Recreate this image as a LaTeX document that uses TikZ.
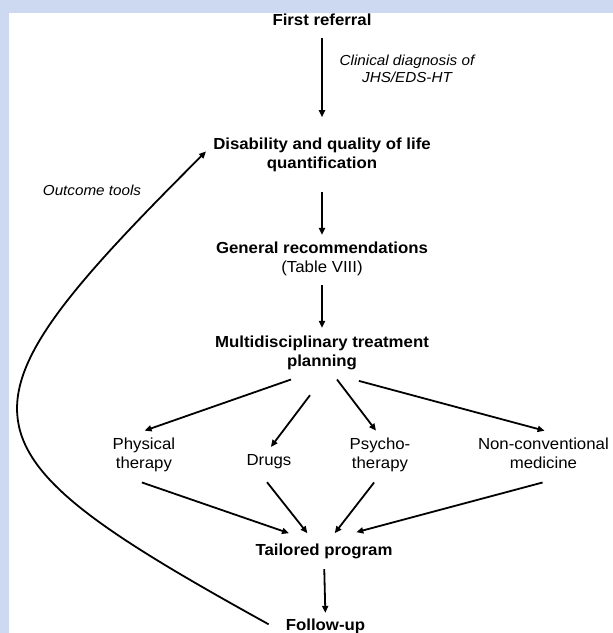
\documentclass[tikz,border=0pt]{standalone}
\usepackage{fontspec}
\setmainfont{Liberation Sans}[FakeStretch=1.05]
\usetikzlibrary{arrows.meta}
\definecolor{bandblue}{RGB}{204,217,240}

\begin{document}
\begin{tikzpicture}[x=1pt, y=-1pt,
  stage/.style={font=\bfseries\fontsize{16}{19}\selectfont, align=center, inner sep=0pt},
  therapy/.style={font=\fontsize{16}{19}\selectfont, align=center, inner sep=0pt},
  remark/.style={font=\itshape\fontsize{14.5}{17}\selectfont, align=center, inner sep=0pt},
  flowarrow/.style={-{Triangle[length=7pt,width=6pt]}, line width=1.8pt}]

% Frame
\useasboundingbox (0,0) rectangle (613,633);
\fill[bandblue] (0,0) rectangle (613,633);
\fill[white] (9,12.5) rectangle (613,633);

% Main steps
\node[stage] (first) at (322,20.2) {First referral};
\node[stage] (dis) at (322,154.4) {Disability and quality of life\\quantification};
\node[stage] (gen) at (322,258.9) {General recommendations\\{\mdseries (Table VIII)}};
\node[stage] (multi) at (322,352.9) {Multidisciplinary treatment\\planning};

% Treatment options
\node[therapy] (phys) at (143.9,454.9) {Physical\\therapy};
\node[therapy] (drugs) at (269,461.4) {Drugs};
\node[therapy] (psycho) at (380,454.9) {Psycho-\\therapy};
\node[therapy] (noncon) at (543.4,453.1) {Non-conventional\\medicine};

% Program and follow-up
\node[stage] (tail) at (324,551.4) {Tailored program};
\node[stage] (follow) at (325.5,626.3) {Follow-up};

% Notes
\node[remark] (diag) at (407,68.4) {Clinical diagnosis of\\JHS/EDS-HT};
\node[remark] (tools) at (92,190.5) {Outcome tools};

% Arrows
\draw[flowarrow, shorten <=12pt, shorten >=20pt] (first.south) -- (dis.north);
\draw[flowarrow, shorten <=20.6pt, shorten >=6.8pt] (dis.south) -- (gen.north);
\draw[flowarrow, shorten <=9pt, shorten >=7.8pt] (gen.south) -- (multi.north);
\draw[flowarrow] ([shift={(-31,9.4)}]multi.south) -- ([shift={(0.7,-7.1)}]phys.north);
\draw[flowarrow] ([shift={(-12,25.1)}]multi.south) -- ([shift={(1.9,-7.1)}]drugs.north);
\draw[flowarrow] ([shift={(15,9.4)}]multi.south) -- ([shift={(-4,-7.1)}]psycho.north);
\draw[flowarrow] ([shift={(36.9,10.8)}]multi.south) -- ([shift={(1.2,-6.8)}]noncon.north);
\draw[flowarrow] ([shift={(-2,10.4)}]phys.south) -- ([shift={(-35,-10.5)}]tail.north);
\draw[flowarrow] ([shift={(-2,13.4)}]drugs.south) -- ([shift={(-16.6,-10.5)}]tail.north);
\draw[flowarrow] ([shift={(-5.9,10.4)}]psycho.south) -- ([shift={(10.7,-10.5)}]tail.north);
\draw[flowarrow] ([shift={(-0.8,13.8)}]noncon.south) -- ([shift={(32.3,-11.5)}]tail.north);
\draw[flowarrow, shorten <=10pt, shorten >=5.8pt] (tail.south) -- (follow.north);

% Feedback loop
\draw[flowarrow] ([shift={(-17,-2)}]follow.west) .. controls (-52,447) and (-57,414) .. ([shift={(-7,-3)}]dis.west);

\end{tikzpicture}
\end{document}
